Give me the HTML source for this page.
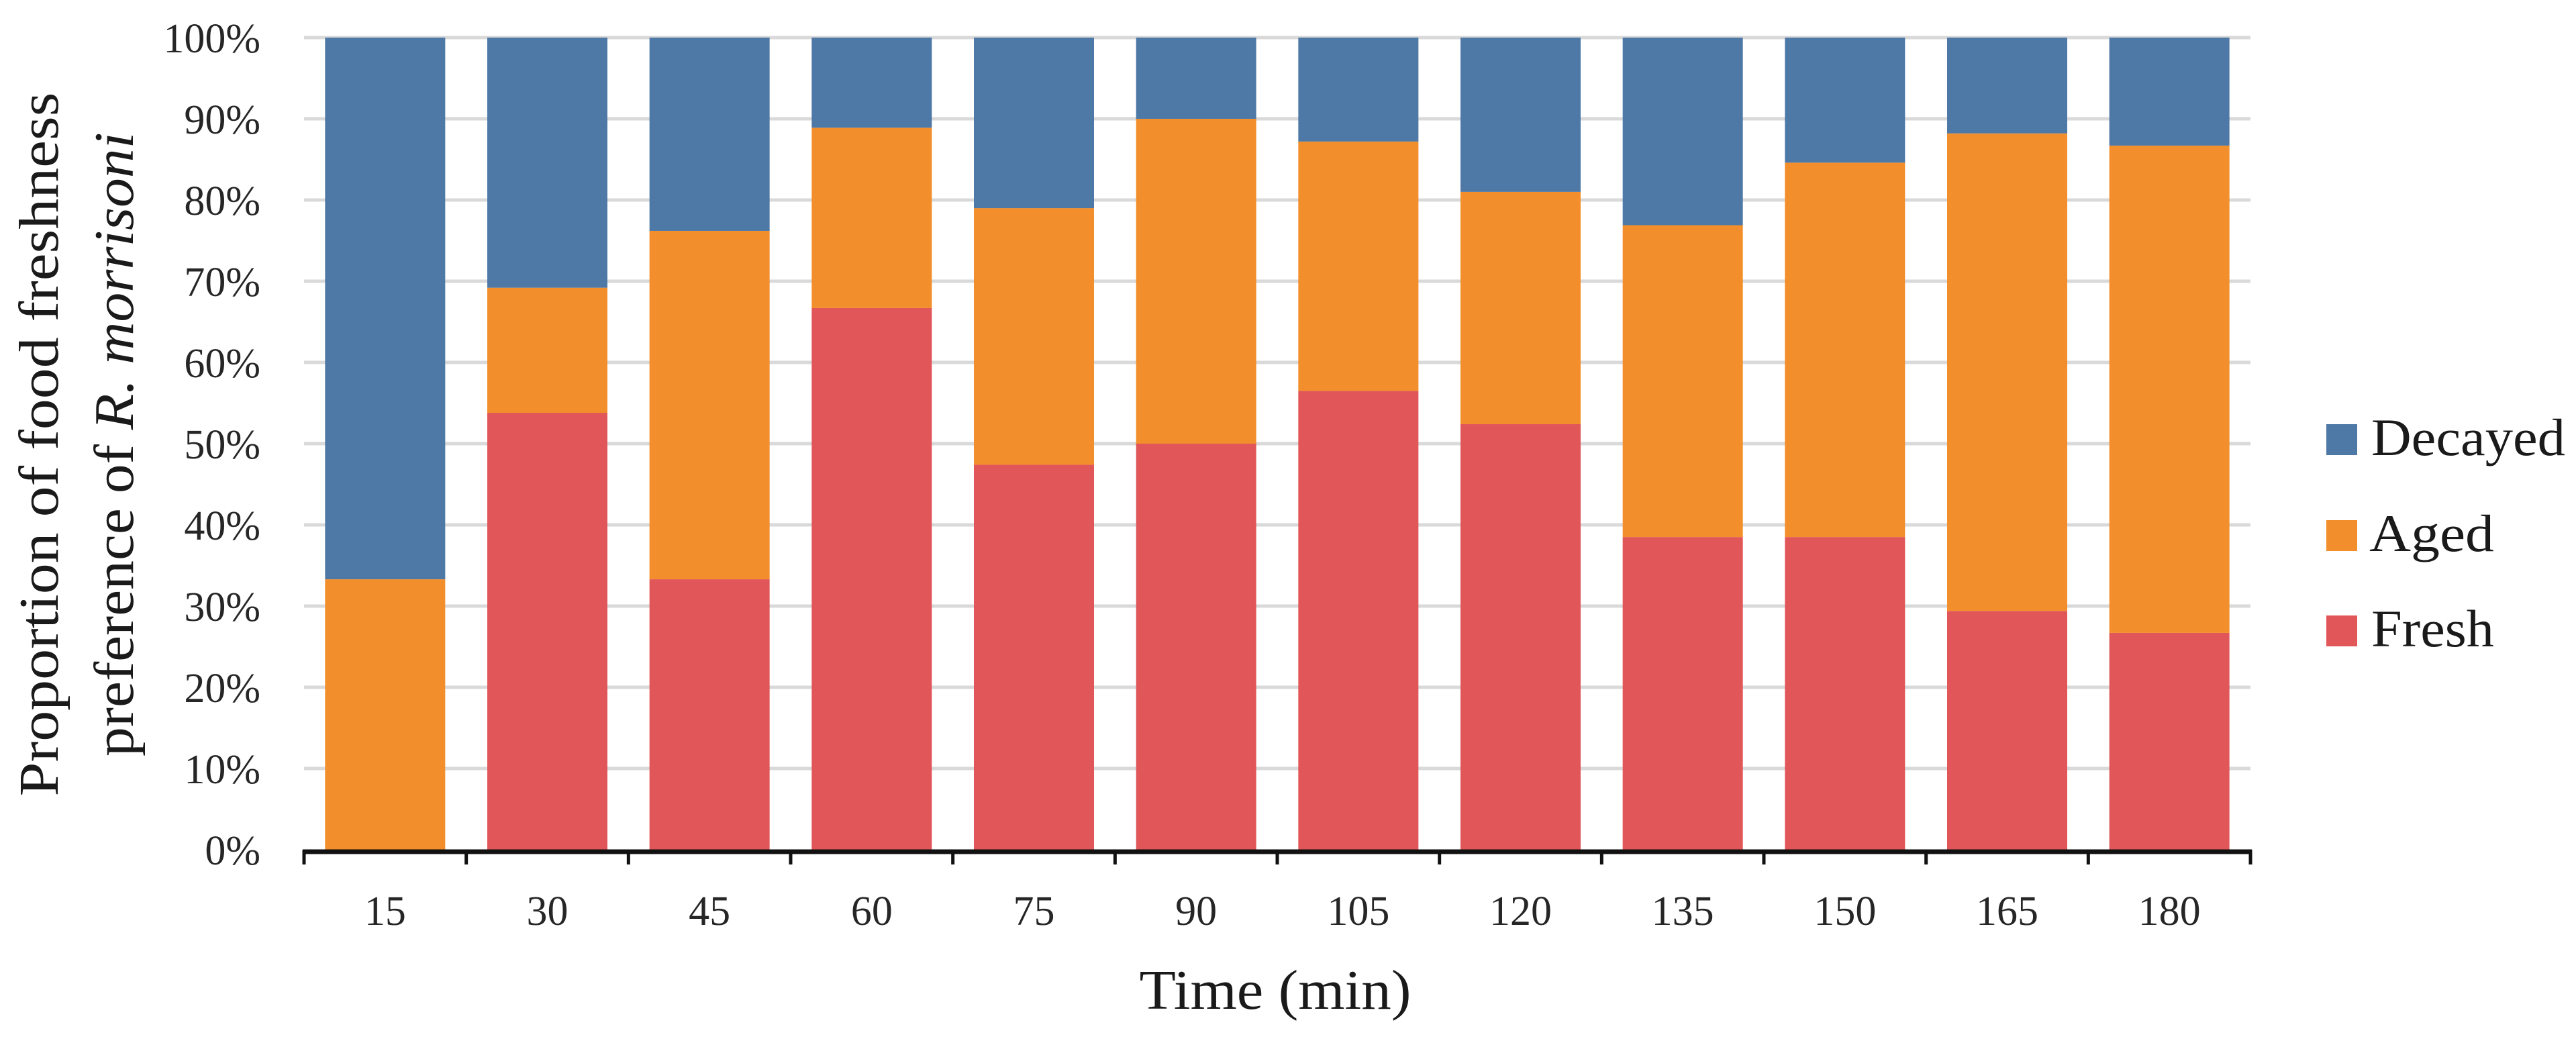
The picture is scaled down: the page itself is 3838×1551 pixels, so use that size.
<!DOCTYPE html>
<html><head><meta charset="utf-8"><style>
html,body{margin:0;padding:0;background:#fff;}
svg{display:block;font-family:"Liberation Serif",serif;}
</style></head><body>
<svg id="chart" width="3838" height="1551" viewBox="0 0 3838 1551" xmlns="http://www.w3.org/2000/svg">
<g id="grid"></g>
<g id="bars"></g>
<g id="axes"></g>
<g font-size="84" fill="#1a1a1a" text-anchor="middle">
  <text transform="translate(86,662) rotate(-90)" textLength="1049" lengthAdjust="spacingAndGlyphs">Proportion of food freshness</text>
  <text transform="translate(198,662) rotate(-90)" textLength="930" lengthAdjust="spacingAndGlyphs">preference of <tspan font-style="italic">R. morrisoni</tspan></text>
</g>
<text x="1900" y="1503" font-size="84" fill="#1a1a1a" text-anchor="middle" textLength="405" lengthAdjust="spacingAndGlyphs">Time (min)</text>
<g font-size="78" fill="#1a1a1a">
  <g><rect x="3466" y="632" width="46" height="46" fill="#4e79a7"/><text x="3533" y="678" textLength="289" lengthAdjust="spacingAndGlyphs">Decayed</text></g>
  <g><rect x="3466" y="775" width="46" height="46" fill="#f28e2b"/><text x="3530" y="821" textLength="186" lengthAdjust="spacingAndGlyphs">Aged</text></g>
  <g><rect x="3466" y="917" width="46" height="46" fill="#e15759"/><text x="3533" y="963" textLength="183" lengthAdjust="spacingAndGlyphs">Fresh</text></g>
</g>
</svg>
<script>
const categories = ["15","30","45","60","75","90","105","120","135","150","165","180"];
const fresh   = [0, 53.8, 33.3, 66.7, 47.4, 50.0, 56.5, 52.4, 38.5, 38.5, 29.4, 26.7];
const aged    = [33.3, 15.4, 42.9, 22.2, 31.6, 40.0, 30.7, 28.6, 38.4, 46.1, 58.8, 60.0];
const decayed = [66.7, 30.8, 23.8, 11.1, 21.0, 10.0, 12.8, 19.0, 23.1, 15.4, 11.8, 13.3];
const yTicks = [0,10,20,30,40,50,60,70,80,90,100];

const NS="http://www.w3.org/2000/svg";
const L=453, R=3353, T=56, B=1266;
const step=(R-L)/categories.length, bw=179;
const y=v=>B-(v/100)*(B-T);
const xc=i=>L+step*(i+0.5);
function mk(tag,attrs,parent){const e=document.createElementNS(NS,tag);for(const k in attrs)e.setAttribute(k,attrs[k]);parent.appendChild(e);return e;}
const grid=document.getElementById('grid'),bars=document.getElementById('bars'),axes=document.getElementById('axes');
yTicks.forEach(t=>{
  if(t>0){const g=mk('line',{x1:L,x2:R,y1:y(t),y2:y(t),stroke:'#d9d9d9','stroke-width':5},grid);
  
  }
  const tx=mk('text',{x:388,y:y(t)+22,'font-size':62,'text-anchor':'end',fill:'#262626'},axes);
  tx.textContent=t+'%';
  
  
});
const series=[["fresh",fresh,"#e15759"],["aged",aged,"#f28e2b"],["decayed",decayed,"#4e79a7"]];
categories.forEach((c,i)=>{
  let base=0;
  series.forEach(([n,arr,col])=>{
    const v=arr[i];
    if(v>0){const r=mk('rect',{x:xc(i)-bw/2,y:y(base+v),width:bw,height:y(base)-y(base+v),fill:col},bars);
    
    }
    base+=v;
  });
  const tx=mk('text',{x:xc(i),y:1378,'font-size':62,'text-anchor':'middle',fill:'#262626'},axes);
  tx.textContent=c;
  
  
});
const ax=mk('line',{x1:L-2,x2:R+2,y1:B+3,y2:B+3,stroke:'#111','stroke-width':7},axes);


for(let i=0;i<=categories.length;i++){
  const tk=mk('line',{x1:L+step*i,x2:L+step*i,y1:B,y2:B+22,stroke:'#111','stroke-width':5},axes);
  
  
}
</script>
</body></html>
